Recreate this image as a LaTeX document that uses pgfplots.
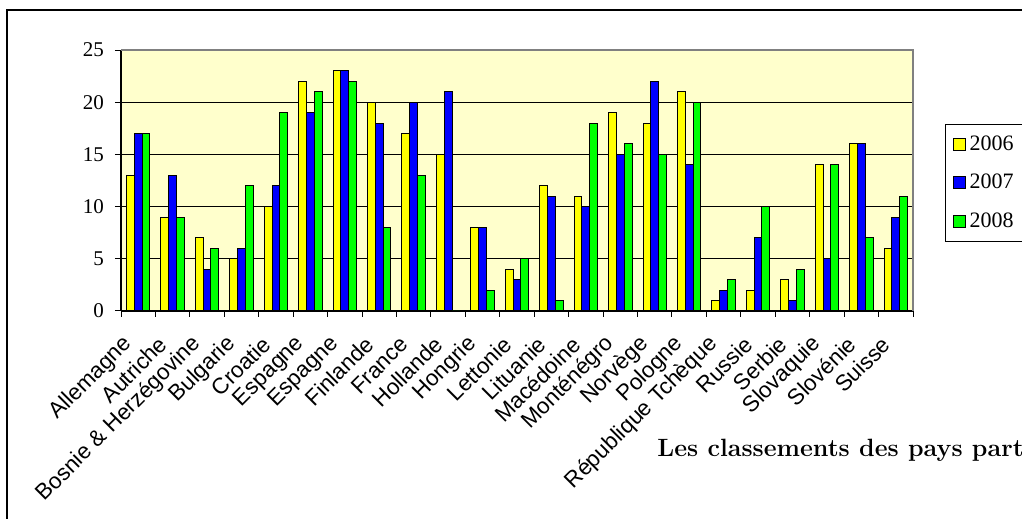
\documentclass[border=0pt]{standalone}
\usepackage{pgfplots}
\pgfplotsset{compat=1.18}
\usepackage{pgfplotstable}
\usepackage{fontspec}
\newfontfamily\timesf{Liberation Serif}
\newfontfamily\arialf{Liberation Sans}

\definecolor{plotbg}{HTML}{FFFFCC}
\definecolor{c06}{HTML}{FFFF00}
\definecolor{c07}{HTML}{0000FF}
\definecolor{c08}{HTML}{00FF00}
\definecolor{pframe}{HTML}{808080}

% classements 2006 / 2007 / 2008
\pgfplotstableread{
idx r06 r07 r08
0  13 17 17
1   9 13  9
2   7  4  6
3   5  6 12
4  10 12 19
5  22 19 21
6  23 23 22
7  20 18  8
8  17 20 13
9  15 21  0
10  8  8  2
11  4  3  5
12 12 11  1
13 11 10 18
14 19 15 16
15 18 22 15
16 21 14 20
17  1  2  3
18  2  7 10
19  3  1  4
20 14  5 14
21 16 16  7
22  6  9 11
}\ranks

\pgfplotsset{sq legend/.style={legend image code/.code={%
  \draw[##1, draw=black, line width=0.5pt] (0pt,-3pt) rectangle (6pt,3pt);}}}

\begin{document}
\begin{tikzpicture}
\useasboundingbox (0,0) rectangle (511pt,259.5pt);
\clip (0,0) rectangle (511pt,259.5pt);
\draw[line width=0.75pt] (3.5pt,-5pt) -- (3.5pt,254.5pt) -- (530pt,254.5pt);
\begin{axis}[
  at={(60.5pt,104pt)}, anchor=south west,
  scale only axis, width=396pt, height=130.5pt,
  ybar=0pt, bar width=3.9pt,
  xmin=-0.5, xmax=22.5, ymin=0, ymax=25,
  clip=false,
  axis x line*=bottom, axis y line*=left,
  axis line style={line width=0.6pt},
  axis background/.style={fill=plotbg},
  ytick={0,5,...,25},
  ymajorgrids, grid style={black, line width=0.5pt},
  xtick={-0.5,0.5,...,22.5}, xticklabels={},
  tick align=outside, major tick length=3pt,
  tick style={black, line width=0.5pt},
  extra x ticks={0,1,...,22},
  extra x tick labels={Allemagne,Autriche,Bosnie \& Herzégovine,Bulgarie,Croatie,Espagne,Espagne,Finlande,France,Hollande,Hongrie,Lettonie,Lituanie,Macédoine,Monténégro,Norvège,Pologne,République Tchèque,Russie,Serbie,Slovaquie,Slovénie,Suisse},
  extra x tick style={major tick length=0pt, grid=none,
    xticklabel style={font=\arialf\fontsize{11.2}{13}\selectfont, xshift=-4pt, yshift=-14pt, rotate=45, anchor=east, inner sep=1pt}},
  yticklabel style={font=\timesf\fontsize{10.5}{12}\selectfont, xshift=-2pt},
  /pgf/number format/assume math mode=true,
  legend style={at={(1.0404,0.7165)}, anchor=north west, draw=black, line width=0.5pt,
    fill=white, font=\timesf\fontsize{11}{13}\selectfont, row sep=6.5pt, inner sep=3.5pt,
    /tikz/every even column/.append style={column sep=3pt}},
  legend cell align=left,
]
\addplot[fill=c06, draw=black, line width=0.5pt, sq legend] table[x=idx, y=r06] {\ranks};
\addplot[fill=c07, draw=black, line width=0.5pt, sq legend] table[x=idx, y=r07] {\ranks};
\addplot[fill=c08, draw=black, line width=0.5pt, sq legend] table[x=idx, y=r08] {\ranks};
\legend{2006,2007,2008}
\draw[pframe, line width=0.8pt] (rel axis cs:0,1) -- (rel axis cs:1,1) -- (rel axis cs:1,0);
\end{axis}
\node[anchor=base west, inner sep=0pt] at (328.5pt,31pt)
  {\fontsize{12.5}{15}\selectfont\bfseries Les classements des pays participants};
\end{tikzpicture}
\end{document}
